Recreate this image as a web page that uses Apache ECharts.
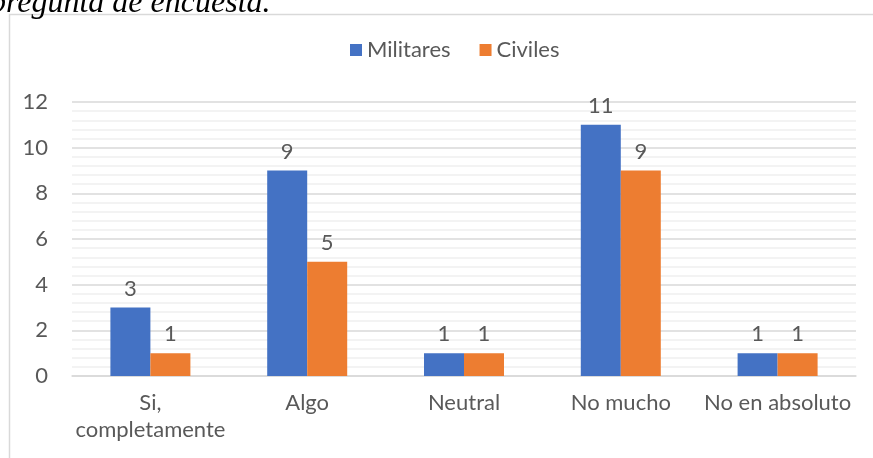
<!DOCTYPE html>
<html>
<head>
<meta charset="utf-8">
<script src="https://cdn.jsdelivr.net/npm/echarts@6/dist/echarts.min.js"></script>
<style>
    html, body { margin: 0; padding: 0; background: #fff; }
    #chart { width: 873px; height: 458px; }
</style>
</head>
<body>
<div id="chart"></div>
<script>
const categories = ['Si,\ncompletamente', 'Algo', 'Neutral', 'No mucho', 'No en absoluto']
const militares = [3, 9, 1, 11, 1]
const civiles = [1, 5, 1, 9, 1]
const legendNames = ['Militares', 'Civiles']

const textColor = '#595959'
const font = 'Lato'
const fs = 22

const chart = echarts.init(document.getElementById('chart'))
const options = {
    animation: false,
    textStyle: { fontFamily: font },
    graphic: [
        {
            type: 'rect',
            shape: { x: 9.5, y: 14.5, width: 900, height: 500 },
            style: { fill: 'none', stroke: '#d9d9d9', lineWidth: 1.5 }
        },
        {
            type: 'text',
            left: -10,
            top: -12,
            style: {
                text: 'pregunta de encuesta.',
                font: 'italic 32px "Liberation Serif"',
                fill: '#000'
            }
        }
    ],
    legend: {
        top: 34,
        left: 345,
        itemWidth: 12,
        itemHeight: 12,
        itemGap: 29,
        icon: 'rect',
        data: legendNames,
        textStyle: { color: textColor, fontSize: fs, fontFamily: font }
    },
    grid: {
        left: 72,
        right: 17,
        top: 102,
        bottom: 82
    },
    xAxis: {
        type: 'category',
        data: categories,
        axisLine: { lineStyle: { color: '#d9d9d9', width: 1.5 } },
        axisTick: { show: false },
        axisLabel: {
            color: textColor,
            fontSize: fs,
            margin: 13,
            lineHeight: 27,
            interval: 0
        }
    },
    yAxis: {
        type: 'value',
        min: 0,
        max: 12,
        interval: 2,
        axisLine: { show: false },
        axisTick: { show: false },
        axisLabel: { color: textColor, fontSize: fs, margin: 24 },
        splitLine: { lineStyle: { color: '#d9d9d9', width: 1.5 } },
        minorTick: { show: false, splitNumber: 5 },
        minorSplitLine: { show: true, lineStyle: { color: '#f0f0f0', width: 1.5 } }
    },
    series: [
        {
            name: legendNames[0],
            type: 'bar',
            data: militares,
            barWidth: 40,
            barGap: '0%',
            itemStyle: { color: '#4472c4' },
            label: { show: true, position: 'top', distance: 8, color: textColor, fontSize: fs }
        },
        {
            name: legendNames[1],
            type: 'bar',
            data: civiles,
            barWidth: 40,
            itemStyle: { color: '#ed7d31' },
            label: { show: true, position: 'top', distance: 8, color: textColor, fontSize: fs }
        }
    ]
}
chart.setOption(options)
</script>
</body>
</html>
